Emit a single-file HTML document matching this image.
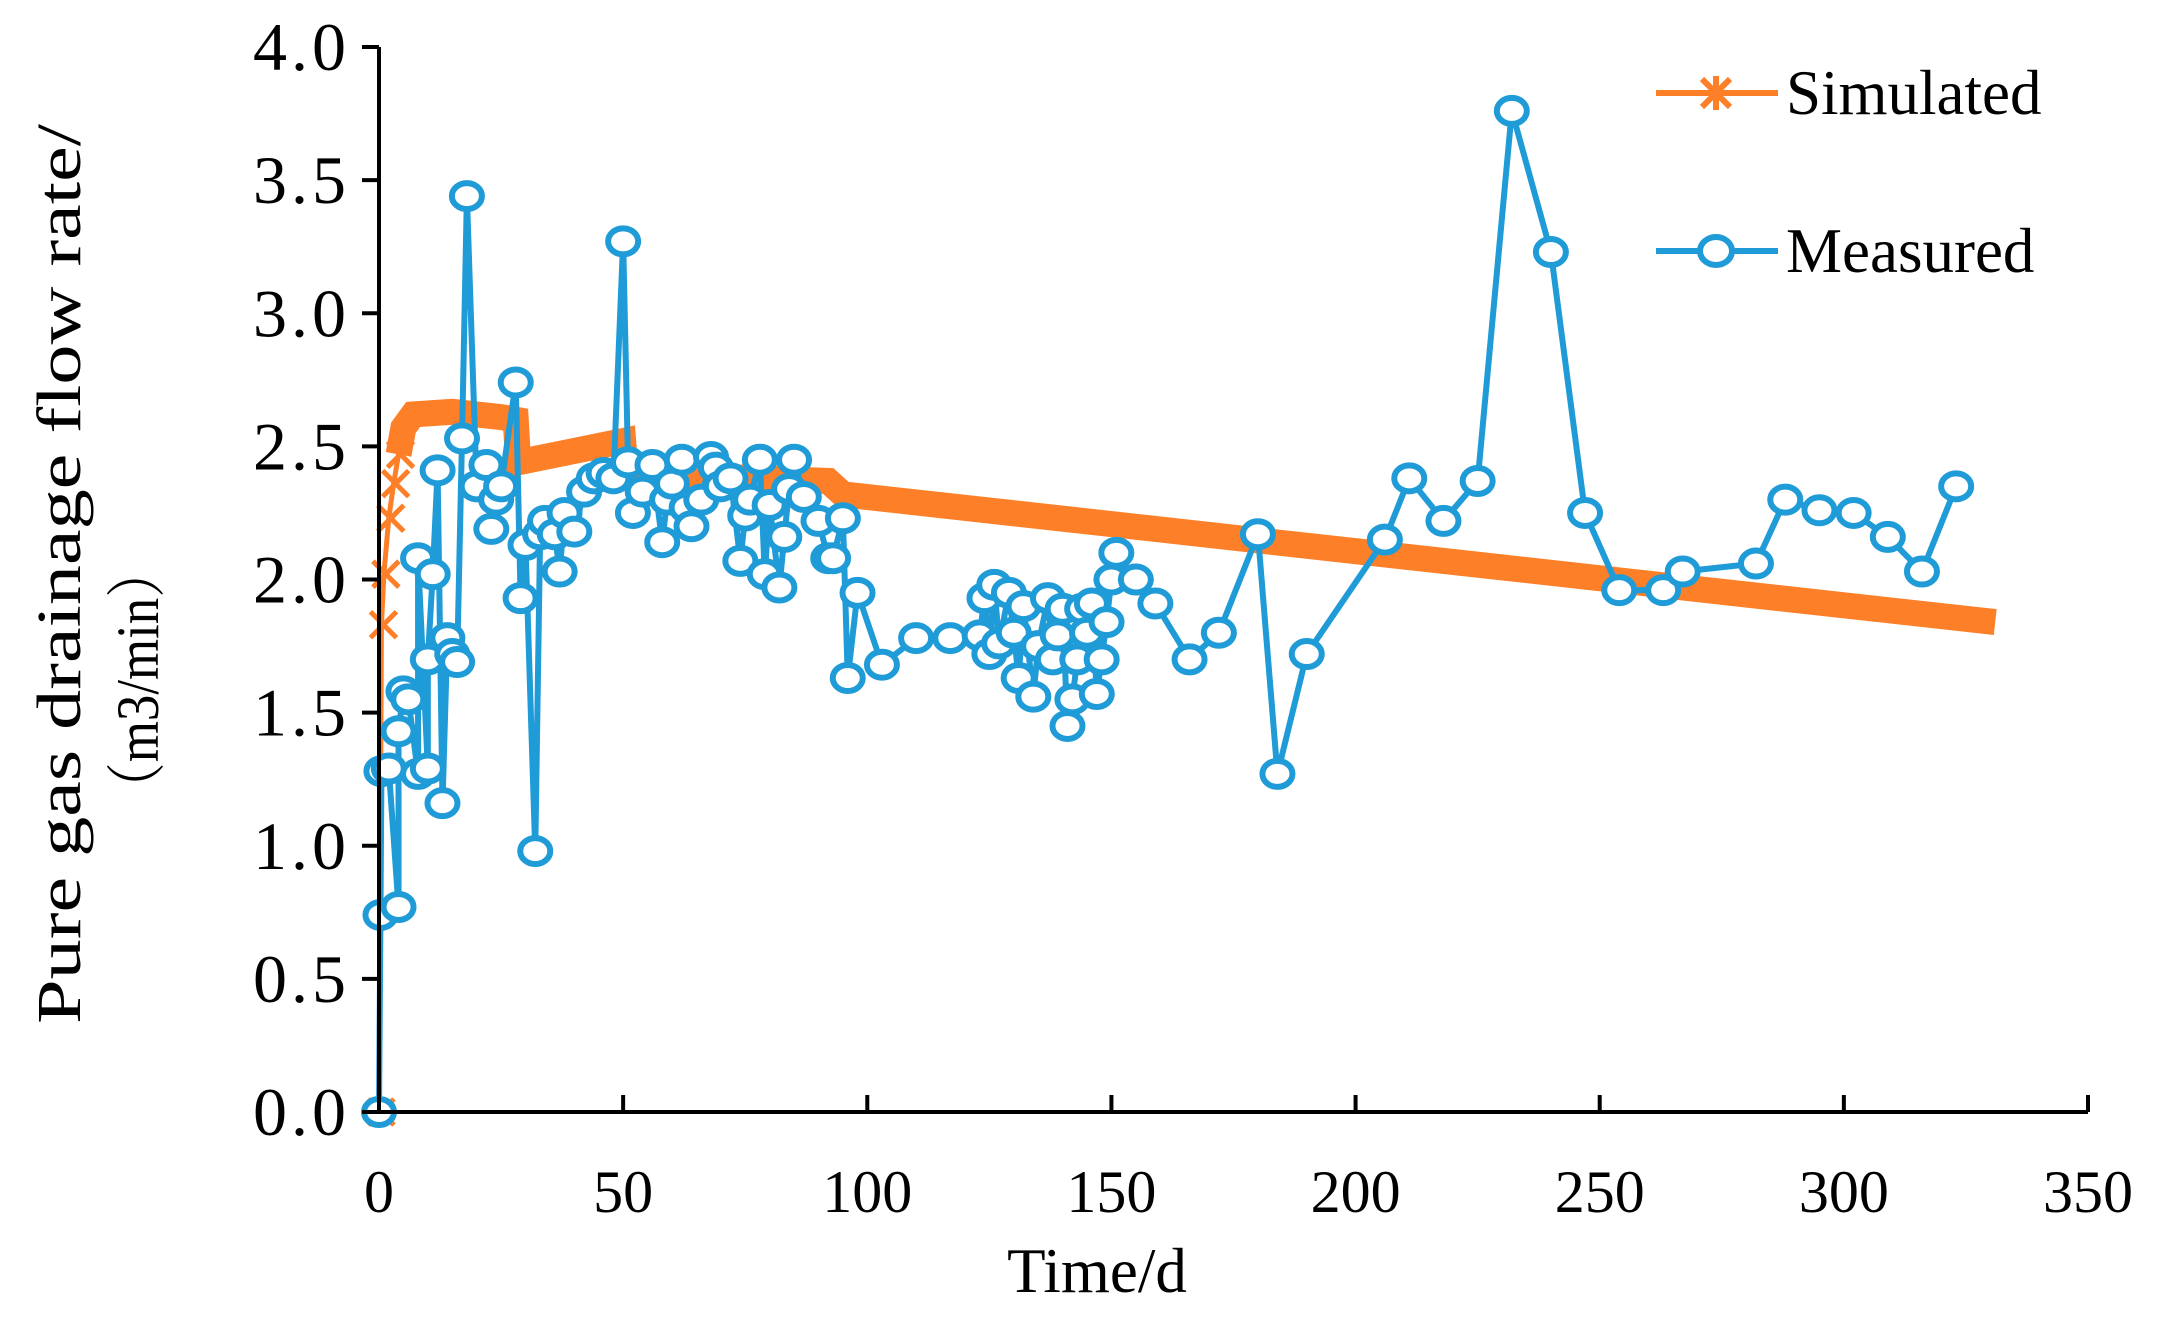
<!DOCTYPE html>
<html><head><meta charset="utf-8"><style>
html,body{margin:0;padding:0;background:#fff}
svg{display:block;font-family:"Liberation Serif",serif}
</style></head><body>
<svg id="chart" width="2159" height="1317" viewBox="0 0 2159 1317" xmlns="http://www.w3.org/2000/svg">
<g id="plot"></g>
<g id="axes"></g>
<g>
  <g>
    <line x1="1656" y1="93" x2="1778" y2="93" stroke="#fd7f28" stroke-width="6"/>
    <g stroke="#fd7f28" stroke-width="6"><line x1="1702" y1="79" x2="1730" y2="107"/><line x1="1730" y1="79" x2="1702" y2="107"/><line x1="1716" y1="76" x2="1716" y2="110"/></g>
    <text x="1786" y="114" font-size="63">Simulated</text>
  </g>
  <g>
    <line x1="1656" y1="251" x2="1778" y2="251" stroke="#1f9bd7" stroke-width="6"/>
    <ellipse cx="1716" cy="251" rx="16" ry="14" fill="#fff" stroke="#1f9bd7" stroke-width="6"/>
    <text x="1786" y="272" font-size="63">Measured</text>
  </g>
</g>
<text transform="translate(80,574) rotate(-90)" text-anchor="middle" font-size="62" textLength="900" lengthAdjust="spacingAndGlyphs">Pure gas drainage flow rate/</text>
<text transform="translate(158,680) rotate(-90)" text-anchor="middle" font-size="60" textLength="270" lengthAdjust="spacingAndGlyphs" style="font-family:'Liberation Serif','Noto Serif CJK SC',serif">（m3/min）</text>
<text x="1097" y="1292" text-anchor="middle" font-size="63">Time/d</text>
</svg>
<script>
const xTicks=[0,50,100,150,200,250,300,350];
const yTicks=[0,0.5,1.0,1.5,2.0,2.5,3.0,3.5,4.0];
const simT=[0,0.5,1,2,3,4,5,7,15,25,28,28.5,50,50.5,92,95,331];
const simV=[0,1.83,2.02,2.23,2.36,2.47,2.57,2.62,2.63,2.61,2.6,2.44,2.52,2.40,2.37,2.32,1.84];
const simMarkT=[0,0.5,1,2,3,4];
const simMarkV=[0,1.83,2.02,2.23,2.36,2.47];
const measT=[0,0.3,0.5,2,4,4,5,6,8,8,10,10,11,12,13,14,15,16,17,18,20,22,23,24,25,28,29,30,32,33,34,36,37,38,40,42,44,46,48,50,51,52,54,56,58,59,60,62,63,64,66,68,69,70,72,74,75,76,78,79,80,82,83,84,85,87,90,92,93,95,96,98,103,110,117,123,124,125,126,127,129,130,131,132,134,135,137,138,139,140,141,142,143,144,145,146,147,148,149,150,151,155,159,166,172,180,184,190,206,211,218,225,232,240,247,254,263,267,282,288,295,302,309,316,323];
const measV=[0,0.74,1.28,1.29,0.77,1.43,1.58,1.55,1.27,2.08,1.29,1.70,2.02,2.41,1.16,1.78,1.72,1.69,2.53,3.44,2.35,2.43,2.19,2.30,2.35,2.74,1.93,2.13,0.98,2.17,2.22,2.17,2.03,2.25,2.18,2.33,2.38,2.40,2.38,3.27,2.44,2.25,2.33,2.43,2.14,2.30,2.36,2.45,2.27,2.20,2.30,2.46,2.42,2.35,2.38,2.07,2.24,2.30,2.45,2.02,2.28,1.97,2.16,2.34,2.45,2.31,2.22,2.08,2.08,2.23,1.63,1.95,1.68,1.78,1.78,1.79,1.93,1.72,1.98,1.76,1.95,1.80,1.63,1.90,1.56,1.75,1.93,1.70,1.79,1.89,1.45,1.55,1.70,1.89,1.80,1.91,1.57,1.70,1.84,2.00,2.10,2.00,1.91,1.70,1.80,2.17,1.27,1.72,2.15,2.38,2.22,2.37,3.76,3.23,2.25,1.96,1.96,2.03,2.06,2.30,2.26,2.25,2.16,2.03,2.35];
const X0=379,X1=2088,Y0=1112,Y1=47;
const sx=t=>X0+(t/350)*(X1-X0);
const sy=v=>Y0-(v/4)*(Y0-Y1);
const NS="http://www.w3.org/2000/svg";
function mk(tag,attrs,parent){const e=document.createElementNS(NS,tag);for(const k in attrs)e.setAttribute(k,attrs[k]);parent.appendChild(e);return e;}
const plot=document.getElementById('plot'),axes=document.getElementById('axes');
const sp2=mk('polyline',{points:simT.slice(0,7).map((t,i)=>sx(t)+','+sy(simV[i])).join(' '),fill:'none',stroke:'#fd7f28','stroke-width':5},plot);


const sp=mk('polyline',{points:simT.slice(5).map((t,i)=>sx(t)+','+sy(simV[i+5])).join(' '),fill:'none',stroke:'#fd7f28','stroke-width':26,'stroke-linejoin':'miter'},plot);


simMarkT.forEach((t,i)=>{const x=sx(t)+2,y=sy(simMarkV[i]);
 const g=mk('g',{stroke:'#fd7f28','stroke-width':5},plot);
 
 
 mk('line',{x1:x-13,y1:y-13,x2:x+13,y2:y+13},g);mk('line',{x1:x+13,y1:y-13,x2:x-13,y2:y+13},g);});
const mp=mk('polyline',{points:measT.map((t,i)=>sx(t)+','+sy(measV[i])).join(' '),fill:'none',stroke:'#1f9bd7','stroke-width':6,'stroke-linejoin':'round'},plot);


measT.forEach((t,i)=>{const c=mk('ellipse',{cx:sx(t),cy:sy(measV[i]),rx:15,ry:13,fill:'#fff',stroke:'#1f9bd7','stroke-width':6},plot);
 
 });
const ya=mk('line',{x1:X0,y1:Y1,x2:X0,y2:Y0,stroke:'#000','stroke-width':4},axes);


const xa=mk('line',{x1:X0,y1:Y0,x2:X1,y2:Y0,stroke:'#000','stroke-width':4},axes);


yTicks.forEach(v=>{const y=sy(v);mk('line',{x1:X0-17,y1:y,x2:X0,y2:y,stroke:'#000','stroke-width':4},axes);
 const tx=mk('text',{x:350,y:y+23,'text-anchor':'end','font-size':68,'letter-spacing':4},axes);tx.textContent=v.toFixed(1);
 
 });
xTicks.forEach(t=>{const x=sx(t);mk('line',{x1:x,y1:Y0-17,x2:x,y2:Y0,stroke:'#000','stroke-width':4},axes);
 const tx=mk('text',{x:x,y:1212,'text-anchor':'middle','font-size':60},axes);tx.textContent=t;
 
 });
</script>
</body></html>
